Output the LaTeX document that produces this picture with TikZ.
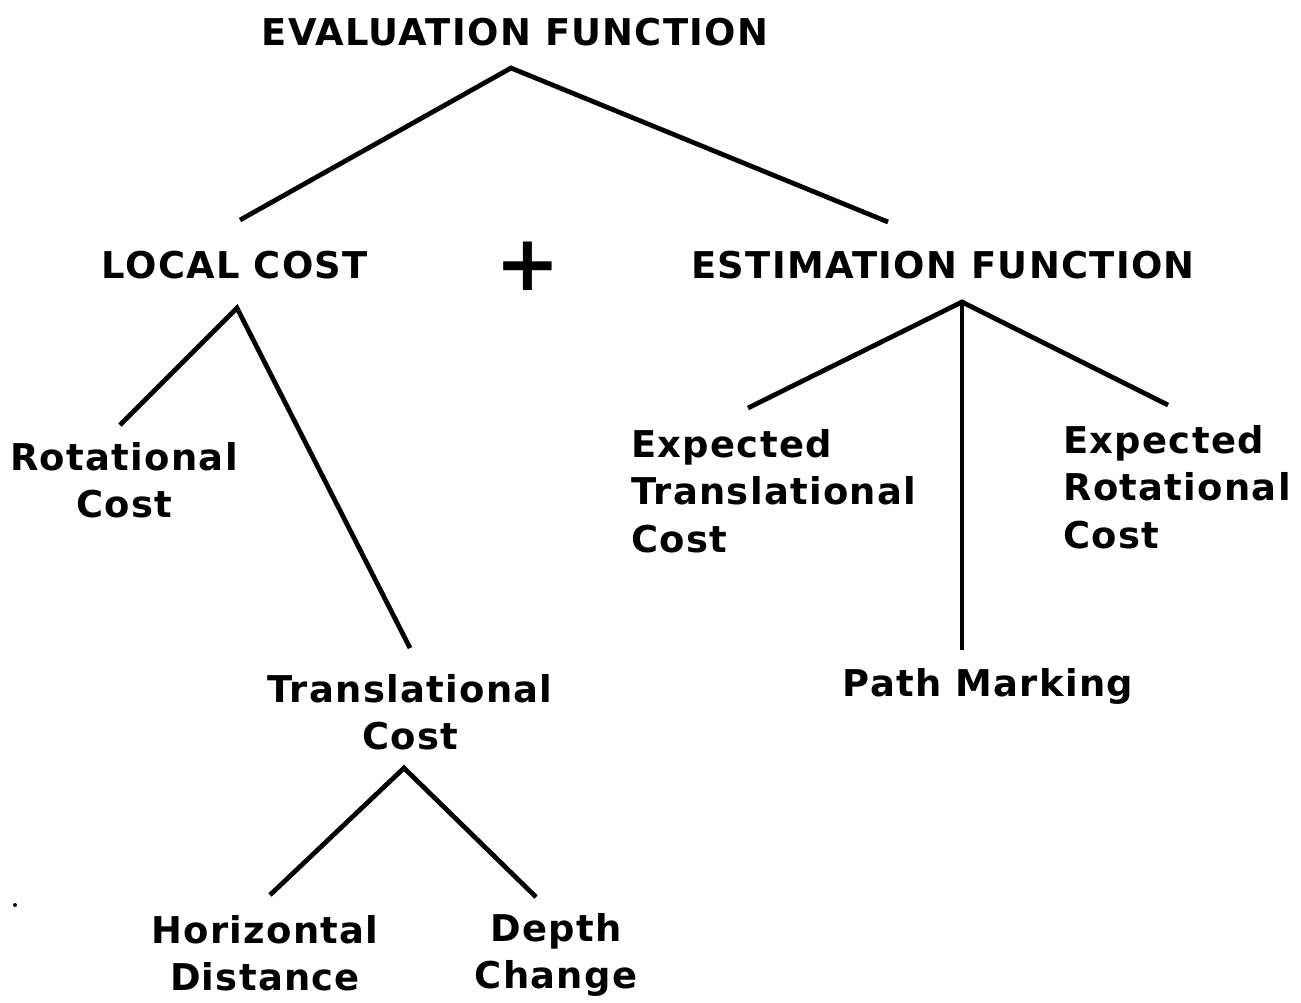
\documentclass[tikz,border=0pt]{standalone}
\usepackage{fontspec}
\setmainfont{DejaVu Sans}[LetterSpace=3.5]
\begin{document}
\begin{tikzpicture}[x=0.02cm,y=-0.02cm,
  lbl/.style={font=\bfseries\fontsize{21}{27}\selectfont, inner sep=0pt, align=center},
  lblL/.style={lbl, align=left, anchor=west},
  edge/.style={line width=2.7pt, line cap=butt}]
\useasboundingbox[fill=white] (0,0) rectangle (1301,1002);
% text nodes
\node[lbl] (eval) at (515,32) {EVALUATION FUNCTION};
\node[lbl] (local) at (235,265) {LOCAL COST};
\node[lbl] (plus) at (528,266) {\fontsize{44}{44}\selectfont +};
\node[lbl] (est) at (943,265) {ESTIMATION FUNCTION};
\node[lbl] (rot) at (124,480) {Rotational\\Cost};
\node[lblL] (etc) at (631,491) {Expected\\Translational\\Cost};
\node[lblL] (erc) at (1063,487) {Expected\\Rotational\\Cost};
\node[lbl] (trans) at (410,712) {Translational\\Cost};
\node[lbl] (path) at (988,686) {Path Marking};
\node[lbl] (horiz) at (265,953) {Horizontal\\Distance};
\node[lbl] (depth) at (556,955) {Depth\\Change};
% connector end points
\coordinate (evalA) at (511,68);
\coordinate (localT) at (240,220);
\coordinate (estT) at (888,222);
\coordinate (localA) at (237,308);
\coordinate (rotT) at (120,425);
\coordinate (transT) at (410,648);
\coordinate (estA) at (962,302);
\coordinate (etcT) at (748,408);
\coordinate (pathT) at (962,650);
\coordinate (ercT) at (1168,405);
\coordinate (transA) at (404,768);
\coordinate (horizT) at (270,895);
\coordinate (depthT) at (536,897);
% connectors
\draw[edge] (localT) -- (evalA) -- (estT);
\draw[edge] (rotT) -- (localA) -- (transT);
\draw[edge] (etcT) -- (estA) -- (ercT);
\draw[edge] (estA) -- (pathT);
\draw[edge] (horizT) -- (transA) -- (depthT);
\fill (15,905) circle (2);
\end{tikzpicture}
\end{document}
